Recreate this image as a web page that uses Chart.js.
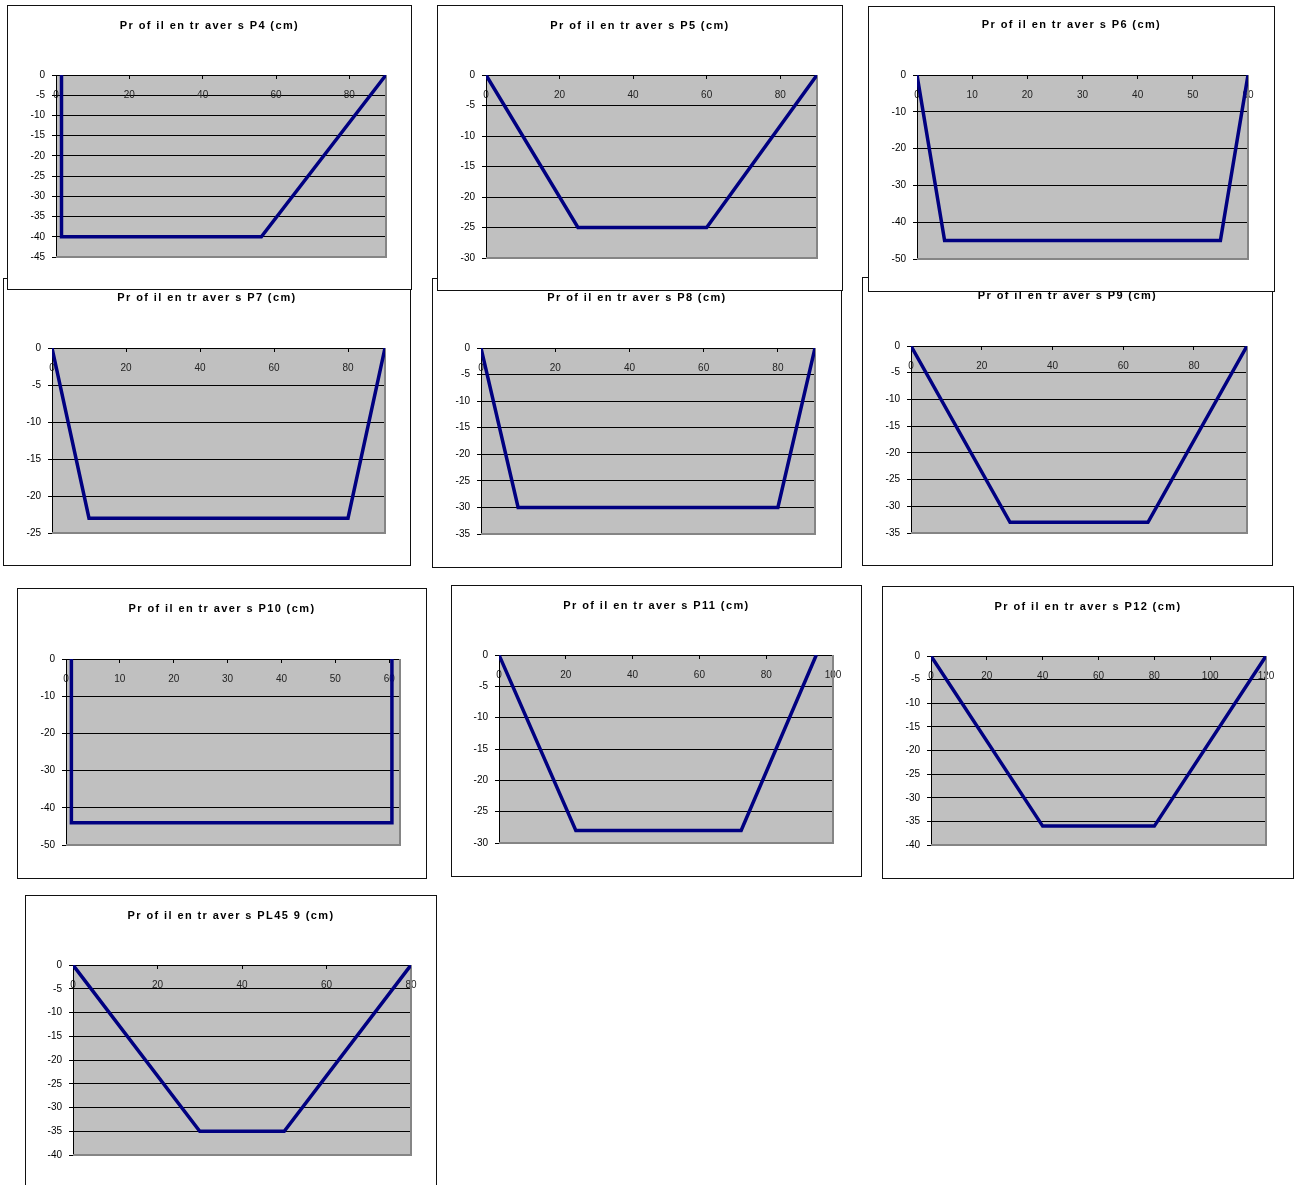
<!DOCTYPE html>
<html lang="fr">
<head>
<meta charset="utf-8">
<title>Profils en travers</title>
<script src="https://cdn.jsdelivr.net/npm/chart.js@4.4.1/dist/chart.umd.min.js"></script>
<style>
  html, body { margin: 0; padding: 0; background: #fff; }
  body { position: relative; width: 1296px; height: 1185px; overflow: hidden; }
  .frame { position: absolute; box-sizing: border-box; border: 1px solid #111; background: #fff; }
  .frame canvas { position: absolute; left: 0; top: 0; }
</style>
</head>
<body>
<script>
// Profile names and titles
const profileNames = ['P4', 'P5', 'P6', 'P7', 'P8', 'P9', 'P10', 'P11', 'P12', 'PL45 9'];
const titles = profileNames.map(n => 'Pr of il en tr aver s ' + n + ' (cm)');

// Cross-section profiles: horizontal distance (cm) and depth (cm)
const p4X = [1.5, 1.5, 56, 90];    const p4Y = [0, -40, -40, 0];
const p5X = [0, 25, 60, 90];       const p5Y = [0, -25, -25, 0];
const p6X = [0, 5, 55, 60];        const p6Y = [0, -45, -45, 0];
const p7X = [0, 10, 80, 90];       const p7Y = [0, -23, -23, 0];
const p8X = [0, 10, 80, 90];       const p8Y = [0, -30, -30, 0];
const p9X = [0, 28, 67, 95];       const p9Y = [0, -33, -33, 0];
const p10X = [1, 1, 60.5, 60.5];   const p10Y = [0, -44, -44, 0];
const p11X = [0, 23, 72.5, 95];    const p11Y = [0, -28, -28, 0];
const p12X = [0, 40, 80, 120];     const p12Y = [0, -36, -36, 0];
const pl45X = [0, 30, 50, 80];     const pl45Y = [0, -35, -35, 0];

const profileX = [p4X, p5X, p6X, p7X, p8X, p9X, p10X, p11X, p12X, pl45X];
const profileY = [p4Y, p5Y, p6Y, p7Y, p8Y, p9Y, p10Y, p11Y, p12Y, pl45Y];

// Axis ranges and tick steps
const xMax  = [90, 90, 60, 90, 90, 95, 62, 100, 120, 80];
const xStep = [20, 20, 10, 20, 20, 20, 10, 20, 20, 20];
const yMin  = [-45, -30, -50, -25, -35, -35, -50, -30, -40, -40];
const yStep = [5, 5, 10, 5, 5, 5, 10, 5, 5, 5];

// Page layout: frame [left, top, right, bottom], plot [left, top, right, bottom], title centre y
const frames = [
  { frame: [7, 5, 411, 289],      plot: [56, 75, 386, 257],    titleY: 25.5,  z: 2 },
  { frame: [437, 5, 842, 290],    plot: [486, 75, 817, 258],   titleY: 25.5,  z: 2 },
  { frame: [868, 6, 1274, 291],   plot: [917, 75, 1248, 259],  titleY: 25,    z: 2 },
  { frame: [3, 278, 410, 565],    plot: [52, 348, 385, 533],   titleY: 298,   z: 1 },
  { frame: [432, 278, 841, 567],  plot: [481, 348, 815, 534],  titleY: 298,   z: 1 },
  { frame: [862, 277, 1272, 565], plot: [911, 346, 1247, 533], titleY: 296,   z: 1 },
  { frame: [17, 588, 426, 878],   plot: [66, 659, 400, 845],   titleY: 608.5, z: 1 },
  { frame: [451, 585, 861, 876],  plot: [499, 655, 833, 843],  titleY: 605.5, z: 1 },
  { frame: [882, 586, 1293, 878], plot: [931, 656, 1266, 845], titleY: 606.5, z: 1 },
  { frame: [25, 895, 436, 1195],  plot: [73, 965, 411, 1155],  titleY: 915.5, z: 1 }
];

const FONT = 'Arial, "Liberation Sans", sans-serif';

// Grey plot background, and grey right/bottom plot border
const plotAreaPlugin = {
  id: 'plotArea',
  beforeDraw(chart) {
    const { ctx, chartArea: a } = chart;
    ctx.save();
    ctx.fillStyle = '#c0c0c0';
    ctx.fillRect(a.left, a.top, a.right - a.left, a.bottom - a.top);
    ctx.restore();
  },
  beforeDatasetsDraw(chart) {
    const { ctx, chartArea: a } = chart;
    ctx.save();
    ctx.strokeStyle = '#858585';
    ctx.lineWidth = 2;
    ctx.beginPath();
    ctx.moveTo(a.left, a.bottom);
    ctx.lineTo(a.right, a.bottom);
    ctx.lineTo(a.right, a.top);
    ctx.stroke();
    ctx.restore();
  }
};

// Letter-spaced bold title
const spacedTitlePlugin = {
  id: 'spacedTitle',
  afterDraw(chart, args, opts) {
    const ctx = chart.ctx;
    ctx.save();
    ctx.font = 'bold 11px ' + FONT;
    if ('letterSpacing' in ctx) ctx.letterSpacing = '1.4px';
    ctx.fillStyle = '#000';
    ctx.textAlign = 'center';
    ctx.textBaseline = 'middle';
    ctx.fillText(opts.text, chart.width / 2, opts.y);
    ctx.restore();
  }
};

frames.forEach((f, i) => {
  const [L, T, R, B] = f.frame;
  const [pl, pt, pr, pb] = f.plot;
  const div = document.createElement('div');
  div.className = 'frame';
  div.style.left = L + 'px';
  div.style.top = T + 'px';
  div.style.width = (R - L + 1) + 'px';
  div.style.height = (B - T + 1) + 'px';
  div.style.zIndex = f.z;
  const canvas = document.createElement('canvas');
  const cw = R - L - 1, ch = B - T - 1;
  canvas.width = cw; canvas.height = ch;
  canvas.style.width = cw + 'px'; canvas.style.height = ch + 'px';
  div.appendChild(canvas);
  document.body.appendChild(div);

  const yAxisWidth = pl - (L + 1);
  const points = profileX[i].map((x, k) => ({ x: x, y: profileY[i][k] }));
  const lowest = yMin[i];

  new Chart(canvas, {
    type: 'scatter',
    data: {
      datasets: [{
        label: profileNames[i],
        data: points,
        showLine: true,
        borderColor: '#000080',
        borderWidth: 3.5,
        borderJoinStyle: 'miter',
        pointRadius: 0,
        pointHoverRadius: 0,
        tension: 0,
        fill: false
      }]
    },
    options: {
      responsive: false,
      animation: false,
      devicePixelRatio: 1,
      layout: {
        padding: { left: 0, top: pt - (T + 1), right: R - pr, bottom: B - pb }
      },
      plugins: {
        legend: { display: false },
        tooltip: { enabled: false },
        title: { display: false },
        spacedTitle: { text: titles[i], y: f.titleY - (T + 1) }
      },
      scales: {
        x: {
          type: 'linear',
          position: { y: 0 },
          min: 0,
          max: xMax[i],
          border: { display: true, color: '#000', width: 1 },
          grid: { display: true, drawOnChartArea: false, drawTicks: true, tickLength: 3, color: '#000' },
          ticks: {
            stepSize: xStep[i],
            includeBounds: false,
            padding: 11,
            color: '#222',
            font: { family: FONT, size: 10 },
            maxRotation: 0,
            autoSkip: false
          }
        },
        y: {
          type: 'linear',
          position: 'left',
          min: lowest,
          max: 0,
          afterFit(scale) { scale.width = yAxisWidth; },
          border: { display: true, color: '#000', width: 1 },
          grid: {
            display: true,
            drawTicks: true,
            tickLength: 4,
            lineWidth: 1,
            color: c => (c.tick && c.tick.value === lowest) ? 'rgba(0,0,0,0)' : '#000',
            tickColor: '#000'
          },
          ticks: {
            stepSize: yStep[i],
            padding: 7,
            color: '#000',
            font: { family: FONT, size: 10 },
            autoSkip: false
          }
        }
      }
    },
    plugins: [plotAreaPlugin, spacedTitlePlugin]
  });
});
</script>
</body>
</html>
